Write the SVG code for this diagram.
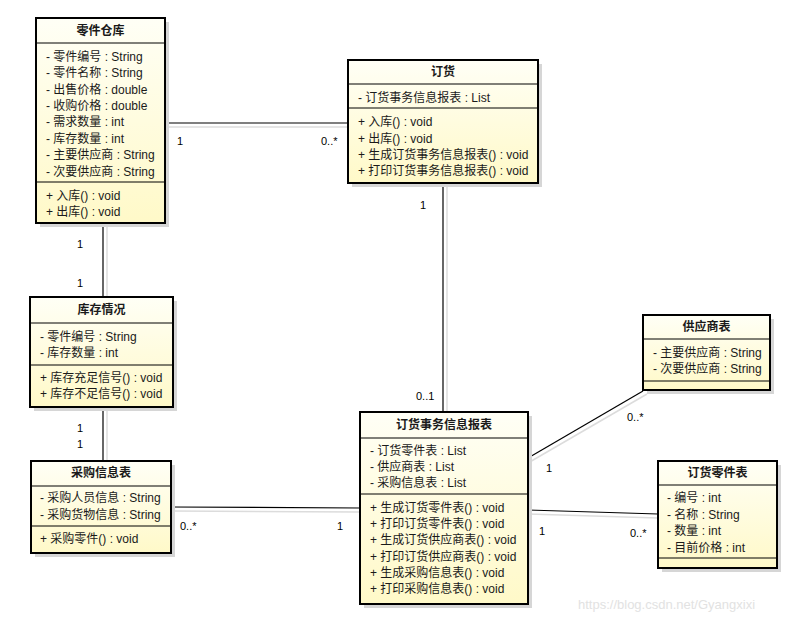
<svg xmlns="http://www.w3.org/2000/svg" width="801" height="620" viewBox="0 0 801 620">
<defs>
<linearGradient id="fill" x1="0" y1="0" x2="0" y2="1">
<stop offset="0" stop-color="#FFFFF6"/>
<stop offset="1" stop-color="#FFF9C8"/>
</linearGradient>
<style>
.sh{fill:#d6d6d6;}
.box{fill:url(#fill);stroke:#000;stroke-width:2;}
.sep{stroke:#000;stroke-width:1;}
.ln{stroke:#000;stroke-width:1.2;fill:none;}
.lns{stroke:#dcdcdc;stroke-width:1.5;fill:none;}
text{font-family:"Liberation Sans","Noto Sans CJK SC",sans-serif;fill:#1a1a1a;}
.t{font-size:12px;font-weight:bold;text-anchor:middle;}
.a{font-size:12px;}
.m{font-size:11px;fill:#000;}
.wm{font-size:13px;fill:#e2e2e2;}
</style>
</defs>
<rect width="801" height="620" fill="#fff"/>

<g id="connectors">
<line class="lns" x1="165" y1="127" x2="348" y2="127"/>
<line class="lns" x1="447" y1="183" x2="447" y2="412"/>
<line class="lns" x1="107" y1="223" x2="107" y2="297"/>
<line class="lns" x1="107" y1="407" x2="107" y2="461"/>
<line class="lns" x1="171" y1="511" x2="360" y2="512"/>
<line class="lns" x1="528" y1="463" x2="647" y2="394"/>
<line class="lns" x1="528" y1="514" x2="658" y2="518"/>
<line class="ln" x1="165" y1="123" x2="348" y2="123"/>
<line class="ln" x1="443" y1="183" x2="443" y2="412"/>
<line class="ln" x1="103" y1="223" x2="103" y2="297"/>
<line class="ln" x1="103" y1="407" x2="103" y2="461"/>
<line class="ln" x1="171" y1="507" x2="360" y2="508"/>
<line class="ln" x1="528" y1="458" x2="643" y2="391"/>
<line class="ln" x1="528" y1="510" x2="658" y2="514"/>
<text class="m" x="177" y="145">1</text>
<text class="m" x="321" y="145">0..*</text>
<text class="m" x="420" y="209">1</text>
<text class="m" x="416" y="400">0..1</text>
<text class="m" x="77" y="248">1</text>
<text class="m" x="77" y="287">1</text>
<text class="m" x="77" y="432">1</text>
<text class="m" x="77" y="448">1</text>
<text class="m" x="180" y="530">0..*</text>
<text class="m" x="337" y="530">1</text>
<text class="m" x="627" y="421">0..*</text>
<text class="m" x="546" y="472">1</text>
<text class="m" x="539" y="535">1</text>
<text class="m" x="630" y="537">0..*</text>
</g>

<g id="lingjiancangku">
<rect class="sh" x="40" y="22" width="129" height="205"/>
<rect class="box" x="36" y="18" width="129" height="205"/>
<line class="sep" x1="36" y1="43" x2="165" y2="43"/>
<line class="sep" x1="36" y1="182" x2="165" y2="182"/>
<text class="t" x="100.5" y="35">零件仓库</text>
<text class="a" x="46" y="61">- 零件编号 : String</text>
<text class="a" x="46" y="77">- 零件名称 : String</text>
<text class="a" x="46" y="94">- 出售价格 : double</text>
<text class="a" x="46" y="110">- 收购价格 : double</text>
<text class="a" x="46" y="126">- 需求数量 : int</text>
<text class="a" x="46" y="143">- 库存数量 : int</text>
<text class="a" x="46" y="159">- 主要供应商 : String</text>
<text class="a" x="46" y="176">- 次要供应商 : String</text>
<text class="a" x="46" y="200">+ 入库() : void</text>
<text class="a" x="46" y="216">+ 出库() : void</text>
</g>

<g id="dinghuo">
<rect class="sh" x="352" y="64" width="190" height="123"/>
<rect class="box" x="348" y="60" width="190" height="123"/>
<line class="sep" x1="348" y1="84" x2="538" y2="84"/>
<line class="sep" x1="348" y1="108" x2="538" y2="108"/>
<text class="t" x="443" y="76">订货</text>
<text class="a" x="358" y="102">- 订货事务信息报表 : List</text>
<text class="a" x="358" y="126">+ 入库() : void</text>
<text class="a" x="358" y="143">+ 出库() : void</text>
<text class="a" x="358" y="159">+ 生成订货事务信息报表() : void</text>
<text class="a" x="358" y="175">+ 打印订货事务信息报表() : void</text>
</g>

<g id="kucunqingkuang">
<rect class="sh" x="34" y="301" width="143" height="110"/>
<rect class="box" x="30" y="297" width="143" height="110"/>
<line class="sep" x1="30" y1="323" x2="173" y2="323"/>
<line class="sep" x1="30" y1="365" x2="173" y2="365"/>
<text class="t" x="101.5" y="314">库存情况</text>
<text class="a" x="40" y="341">- 零件编号 : String</text>
<text class="a" x="40" y="357">- 库存数量 : int</text>
<text class="a" x="40" y="382">+ 库存充足信号() : void</text>
<text class="a" x="40" y="398">+ 库存不足信号() : void</text>
</g>

<g id="caigouxinxibiao">
<rect class="sh" x="35" y="465" width="140" height="92"/>
<rect class="box" x="31" y="461" width="140" height="92"/>
<line class="sep" x1="31" y1="486" x2="171" y2="486"/>
<line class="sep" x1="31" y1="526" x2="171" y2="526"/>
<text class="t" x="101" y="477">采购信息表</text>
<text class="a" x="40" y="502">- 采购人员信息 : String</text>
<text class="a" x="40" y="519">- 采购货物信息 : String</text>
<text class="a" x="40" y="543">+ 采购零件() : void</text>
</g>

<g id="dinghuoshiwubaobiao">
<rect class="sh" x="364" y="416" width="168" height="192"/>
<rect class="box" x="360" y="412" width="168" height="192"/>
<line class="sep" x1="360" y1="438" x2="528" y2="438"/>
<line class="sep" x1="360" y1="494" x2="528" y2="494"/>
<text class="t" x="444" y="429">订货事务信息报表</text>
<text class="a" x="370" y="455">- 订货零件表 : List</text>
<text class="a" x="370" y="471">- 供应商表 : List</text>
<text class="a" x="370" y="487">- 采购信息表 : List</text>
<text class="a" x="370" y="512">+ 生成订货零件表() : void</text>
<text class="a" x="370" y="528">+ 打印订货零件表() : void</text>
<text class="a" x="370" y="544">+ 生成订货供应商表() : void</text>
<text class="a" x="370" y="561">+ 打印订货供应商表() : void</text>
<text class="a" x="370" y="577">+ 生成采购信息表() : void</text>
<text class="a" x="370" y="593">+ 打印采购信息表() : void</text>
</g>

<g id="gongyingshangbiao">
<rect class="sh" x="647" y="319" width="127" height="75"/>
<rect class="box" x="643" y="315" width="127" height="75"/>
<line class="sep" x1="643" y1="339" x2="770" y2="339"/>
<line class="sep" x1="643" y1="381" x2="770" y2="381"/>
<text class="t" x="706.5" y="331">供应商表</text>
<text class="a" x="653" y="357">- 主要供应商 : String</text>
<text class="a" x="653" y="373">- 次要供应商 : String</text>
</g>

<g id="dinghuolingjianbiao">
<rect class="sh" x="662" y="465" width="119" height="107"/>
<rect class="box" x="658" y="461" width="119" height="107"/>
<line class="sep" x1="658" y1="485" x2="777" y2="485"/>
<line class="sep" x1="658" y1="558" x2="777" y2="558"/>
<text class="t" x="717.5" y="477">订货零件表</text>
<text class="a" x="667" y="502">- 编号 : int</text>
<text class="a" x="667" y="519">- 名称 : String</text>
<text class="a" x="667" y="535">- 数量 : int</text>
<text class="a" x="667" y="552">- 目前价格 : int</text>
</g>

<text class="wm" x="578" y="609">https://blog.csdn.net/Gyangxixi</text>
</svg>
